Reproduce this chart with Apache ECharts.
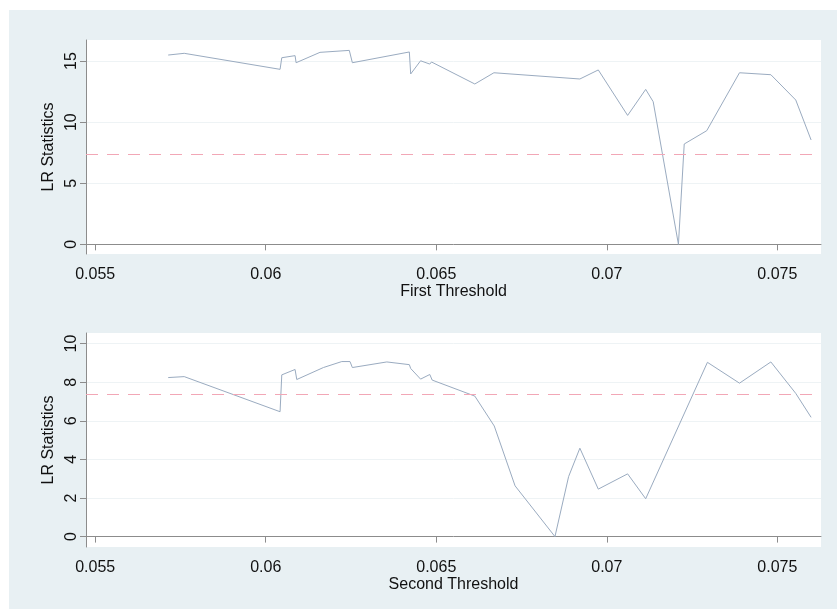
<!DOCTYPE html>
<html>
<head>
<meta charset="utf-8">
<script src="https://cdn.jsdelivr.net/npm/echarts@6/dist/echarts.min.js"></script>
<style>
    html, body { margin: 0; padding: 0; background: #fff; }
    .chart-container {
        position: absolute;
        left: 9px;
        top: 10px;
        width: 828px;
        height: 599px;
        background: #e8f0f3;
    }
</style>
</head>
<body>
<div id="chart" class="chart-container"></div>
<script>
// first threshold grid search
const firstX = [0.05714, 0.05761, 0.06042, 0.06047, 0.06086, 0.06089, 0.06159, 0.06245, 0.06254, 0.06421,
    0.06425, 0.06454, 0.06481, 0.06486, 0.06613, 0.06669, 0.06921, 0.06975, 0.07061, 0.07114,
    0.07136, 0.07210, 0.07227, 0.07293, 0.07389, 0.07481, 0.07554, 0.07599];
const firstLR = [15.49, 15.63, 14.32, 15.27, 15.44, 14.86, 15.71, 15.87, 14.86, 15.74,
    13.94, 15.02, 14.75, 14.92, 13.12, 14.04, 13.53, 14.27, 10.55, 12.68,
    11.67, 0.0, 8.21, 9.30, 14.04, 13.88, 11.81, 8.54];

// second threshold grid search
const secondX = [0.05714, 0.05761, 0.06042, 0.06047, 0.06086, 0.06091, 0.06169, 0.06223, 0.06247, 0.06254,
    0.06355, 0.06421, 0.06425, 0.06454, 0.06481, 0.06488, 0.06613, 0.0667, 0.06731, 0.06848,
    0.06888, 0.06921, 0.06975, 0.07061, 0.07114, 0.07295, 0.07389, 0.07481, 0.07554, 0.07599];
const secondLR = [8.24, 8.29, 6.47, 8.38, 8.66, 8.14, 8.76, 9.07, 9.07, 8.76,
    9.05, 8.91, 8.71, 8.16, 8.40, 8.11, 7.28, 5.73, 2.63, 0.0,
    3.11, 4.58, 2.46, 3.25, 1.96, 9.03, 7.95, 9.05, 7.42, 6.18];

// critical value (dashed line)
const critical = 7.35;

// tick labels
const xTicks = [0.055, 0.06, 0.065, 0.07, 0.075];
const firstYTicks = [0, 5, 10, 15];
const secondYTicks = [0, 2, 4, 6, 8, 10];

const chart = echarts.init(document.getElementById('chart'));
const font = 'Liberation Sans, Arial, sans-serif';

function xAxisCfg(idx, name) {
    return {
        type: 'value',
        gridIndex: idx,
        min: 0.05473,
        max: 0.07628,
        name: name,
        nameLocation: 'middle',
        nameGap: 28,
        nameTextStyle: { color: '#111', fontSize: 16, fontFamily: font },
        axisLine: { lineStyle: { color: '#8c8c8c', width: 1 } },
        axisTick: { customValues: xTicks, length: 6, lineStyle: { color: '#8c8c8c' } },
        axisLabel: {
            customValues: xTicks,
            color: '#111', fontSize: 16, fontFamily: font, margin: 13,
            formatter: v => String(+v.toFixed(4))
        },
        splitLine: { show: false }
    };
}

function yAxisCfg(idx, min, max, ticks) {
    return {
        type: 'value',
        gridIndex: idx,
        min: min,
        max: max,
        name: 'LR Statistics',
        nameLocation: 'middle',
        nameGap: 24,
        nameTextStyle: { color: '#111', fontSize: 16, fontFamily: font },
        axisLine: { show: true, lineStyle: { color: '#8c8c8c', width: 1 } },
        axisTick: { show: true, customValues: ticks, length: 6, lineStyle: { color: '#8c8c8c' } },
        axisLabel: {
            customValues: ticks,
            rotate: 90,
            color: '#111', fontSize: 16, fontFamily: font, margin: 6,
            align: 'center'
        },
        splitLine: { show: true, lineStyle: { color: '#eef3f5', width: 1 } }
    };
}

function lineSeries(idx, xs, ys) {
    return {
        type: 'line',
        xAxisIndex: idx,
        yAxisIndex: idx,
        data: xs.map((x, i) => [x, ys[i]]),
        showSymbol: false,
        lineStyle: { color: '#9aabc0', width: 1 },
        silent: true,
        animation: false,
        markLine: {
            silent: true,
            symbol: 'none',
            label: { show: false },
            lineStyle: { color: '#f2a7b6', type: [12, 9], width: 1 },
            data: [{ yAxis: critical }]
        }
    };
}

const option = {
    animation: false,
    grid: [
        { left: 77, top: 30, right: 16, height: 214, show: true, backgroundColor: '#fff', borderWidth: 0 },
        { left: 77, top: 323, right: 16, height: 214, show: true, backgroundColor: '#fff', borderWidth: 0 }
    ],
    xAxis: [
        xAxisCfg(0, 'First Threshold'),
        xAxisCfg(1, 'Second Threshold')
    ],
    yAxis: [
        yAxisCfg(0, -0.79, 16.72, firstYTicks),
        yAxisCfg(1, -0.54, 10.55, secondYTicks)
    ],
    series: [
        lineSeries(0, firstX, firstLR),
        lineSeries(1, secondX, secondLR)
    ]
};

chart.setOption(option);

window.addEventListener('resize', () => {
    chart.resize();
});
</script>
</body>
</html>
